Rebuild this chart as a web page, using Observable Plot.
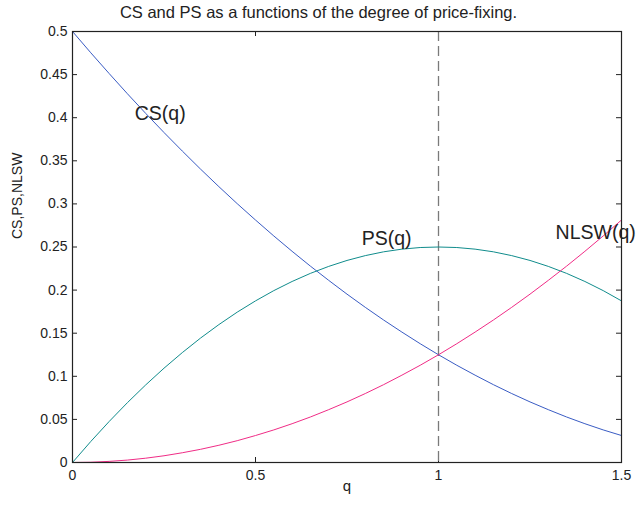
<!DOCTYPE html>
<html>
<head>
<meta charset="utf-8">
<script src="https://cdn.jsdelivr.net/npm/d3@7"></script>
<script src="https://cdn.jsdelivr.net/npm/@observablehq/plot@0.6"></script>
<style>
  body { margin: 0; background: #fff; font-family: "Liberation Sans", Arial, sans-serif; }
  #title { width: 637px; height: 22px; line-height: 24px; text-align: center; font-size: 16.5px; color: #222; }
</style>
</head>
<body>
<div id="title">CS and PS as a functions of the degree of price-fixing.</div>
<div id="chart"></div>
<script>
// degree of price-fixing
const q = [0, 0.05, 0.1, 0.15, 0.2, 0.25, 0.3, 0.35, 0.4, 0.45, 0.5, 0.55, 0.6, 0.65, 0.7, 0.75,
           0.8, 0.85, 0.9, 0.95, 1, 1.05, 1.1, 1.15, 1.2, 1.25, 1.3, 1.35, 1.4, 1.45, 1.5];
// consumer surplus
const cs = [0.5, 0.4753, 0.4513, 0.4278, 0.405, 0.3828, 0.3613, 0.3403, 0.32, 0.3003, 0.2813,
            0.2628, 0.245, 0.2278, 0.2113, 0.1953, 0.18, 0.1653, 0.1513, 0.1378, 0.125, 0.1128,
            0.1013, 0.0903, 0.08, 0.0703, 0.0613, 0.0528, 0.045, 0.0378, 0.0313];
// producer surplus
const ps = [0, 0.0244, 0.0475, 0.0694, 0.09, 0.1094, 0.1275, 0.1444, 0.16, 0.1744, 0.1875,
            0.1994, 0.21, 0.2194, 0.2275, 0.2344, 0.24, 0.2444, 0.2475, 0.2494, 0.25, 0.2494,
            0.2475, 0.2444, 0.24, 0.2344, 0.2275, 0.2194, 0.21, 0.1994, 0.1875];
// net loss of social welfare
const nlsw = [0, 0.0003, 0.0013, 0.0028, 0.005, 0.0078, 0.0113, 0.0153, 0.02, 0.0253, 0.0313,
              0.0378, 0.045, 0.0528, 0.0613, 0.0703, 0.08, 0.0903, 0.1013, 0.1128, 0.125, 0.1378,
              0.1513, 0.1653, 0.18, 0.1953, 0.2113, 0.2278, 0.245, 0.2628, 0.2813];

const xTicks = [0, 0.5, 1, 1.5];
const yTicks = [0, 0.05, 0.1, 0.15, 0.2, 0.25, 0.3, 0.35, 0.4, 0.45, 0.5];
const marker = [1];

const curveNames = ["CS(q)", "PS(q)", "NLSW(q)"];
const nameQ = [0.17, 0.79, 1.32];
const nameValue = [0.405, 0.26, 0.267];

const W = 637, H = 490;
const M = {top: 9, right: 16, bottom: 50, left: 72};
const innerW = W - M.left - M.right, innerH = H - M.top - M.bottom;
const tick = 5;

const rows = (ys) => q.map((x, i) => ({q: x, v: ys[i]}));
const names = curveNames.map((t, i) => ({t, q: nameQ[i], v: nameValue[i]}));

const chart = Plot.plot({
  width: W,
  height: H,
  marginTop: M.top, marginRight: M.right, marginBottom: M.bottom, marginLeft: M.left,
  style: {fontFamily: "Liberation Sans, Arial, sans-serif", background: "#fff", color: "#222", overflow: "visible"},
  x: {domain: [0, 1.5], label: null},
  y: {domain: [0, 0.5], label: null},
  marks: [
    Plot.axisX({ticks: xTicks, tickSize: 0, tickPadding: 8, tickFormat: d => String(d), fontSize: 14, label: null}),
    Plot.axisY({ticks: yTicks, tickSize: 0, tickPadding: 5, tickFormat: d => String(d), fontSize: 14, label: null}),
    // inward ticks on all four sides of the box
    Plot.tickX(xTicks, {x: d => d, insetTop: innerH - tick, stroke: "#222"}),
    Plot.tickX(xTicks, {x: d => d, insetBottom: innerH - tick, stroke: "#222"}),
    Plot.tickY(yTicks, {y: d => d, insetRight: innerW - tick, stroke: "#222"}),
    Plot.tickY(yTicks, {y: d => d, insetLeft: innerW - tick, stroke: "#222"}),
    Plot.ruleX(marker, {x: d => d, stroke: "#7a7a7a", strokeWidth: 1.3, strokeDasharray: "10,5"}),
    Plot.line(rows(cs), {x: "q", y: "v", stroke: "#3a5cc4", strokeWidth: 1}),
    Plot.line(rows(ps), {x: "q", y: "v", stroke: "#108c8c", strokeWidth: 1}),
    Plot.line(rows(nlsw), {x: "q", y: "v", stroke: "#f02c86", strokeWidth: 1}),
    Plot.text(names, {x: "q", y: "v", text: "t", textAnchor: "start", fontSize: 19.5, fill: "#222"}),
    Plot.frame({stroke: "#222", strokeWidth: 1.2}),
    Plot.text(["q"], {frameAnchor: "bottom", dy: 28, text: d => d, fontSize: 15, fill: "#222"}),
    Plot.text(["CS,PS,NLSW"], {frameAnchor: "left", dx: -55, dy: -8, rotate: -90, text: d => d, fontSize: 14, fill: "#222"})
  ]
});
document.getElementById("chart").append(chart);
</script>
</body>
</html>
